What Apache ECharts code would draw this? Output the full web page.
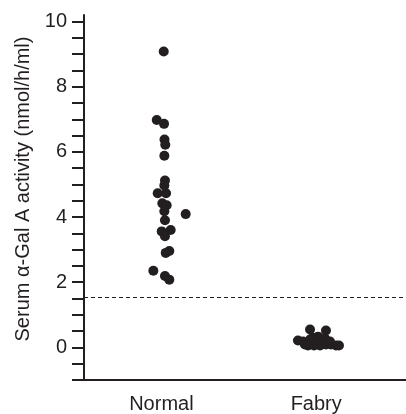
<!DOCTYPE html>
<html>
<head>
<meta charset="utf-8">
<script src="https://cdn.jsdelivr.net/npm/echarts@6/dist/echarts.min.js"></script>
<style>
  html, body { margin: 0; padding: 0; background: #fff; }
  #chart { width: 406px; height: 414px; }
</style>
</head>
<body>
<div id="chart"></div>
<script>
// groups on the x axis
const groups = ['Normal', 'Fabry'];
const groupPos = [1, 2];

// Normal: x jitter position and serum activity
const normalX = [1.015, 0.970, 1.017, 1.020, 1.025, 1.019, 1.023, 1.019, 0.976, 1.030, 1.006, 1.034,
  1.019, 1.023, 1.157, 1.002, 1.060, 1.023, 1.028, 1.051, 0.948, 1.023, 1.051];
const normalY = [9.08, 6.98, 6.86, 6.38, 6.22, 5.88, 5.12, 4.97, 4.73, 4.73, 4.42, 4.36,
  4.18, 3.90, 4.09, 3.56, 3.60, 3.41, 2.90, 2.96, 2.35, 2.19, 2.08];

// Fabry
const fabryX = [1.882, 1.914, 1.960, 2.063, 1.960, 1.999, 2.031, 1.947, 1.986, 2.025, 2.063, 2.095,
  2.128, 2.147, 1.979, 2.012, 2.057, 1.927, 2.089];
const fabryY = [0.21, 0.18, 0.55, 0.52, 0.24, 0.21, 0.15, 0.06, 0.06, 0.06, 0.09, 0.09,
  0.06, 0.06, 0.30, 0.33, 0.27, 0.09, 0.18];

// cut-off line
const cutoff = 1.55;

// y axis ticks and labels
const yLabels = [0, 2, 4, 6, 8, 10];
const yTicks = [-1, -0.5, 0, 0.5, 1, 1.5, 2, 2.5, 3, 3.5, 4, 4.5, 5, 5.5, 6, 6.5, 7, 7.5, 8, 8.5, 9, 9.5, 10];

const ink = '#231f20';
const font = 'Liberation Sans, Arial, Helvetica, sans-serif';

function pairs(xs, ys) {
  return xs.map((x, i) => [x, ys[i]]);
}

const chart = echarts.init(document.getElementById('chart'));
chart.setOption({
  animation: false,
  backgroundColor: '#fff',
  grid: { left: 84, right: 0, top: 15, bottom: 32 },
  xAxis: {
    type: 'value',
    min: 0.5,
    max: 2.58,
    splitLine: { show: false },
    axisLine: { show: true, onZero: false, lineStyle: { color: ink, width: 2 } },
    axisTick: { show: false },
    axisLabel: {
      customValues: groupPos,
      formatter: v => groups[groupPos.indexOf(v)] || '',
      color: ink,
      fontFamily: font,
      fontSize: 20,
      margin: 14
    }
  },
  yAxis: {
    type: 'value',
    min: -1,
    max: 10.2,
    splitLine: { show: false },
    axisLine: { show: true, onZero: false, lineStyle: { color: ink, width: 2 } },
    axisTick: {
      show: true,
      customValues: yTicks,
      length: 12,
      lineStyle: { color: ink, width: 2 }
    },
    axisLabel: {
      customValues: yLabels,
      color: ink,
      fontFamily: font,
      fontSize: 20,
      margin: 17
    }
  },
  graphic: [{
    type: 'text',
    x: 23,
    y: 189,
    rotation: Math.PI / 2,
    style: {
      text: 'Serum α-Gal A activity (nmol/h/ml)',
      fill: ink,
      font: '20px ' + font,
      align: 'center',
      verticalAlign: 'middle'
    }
  }],
  series: [
    {
      name: 'Normal',
      type: 'scatter',
      symbolSize: 10,
      itemStyle: { color: ink, opacity: 1 },
      data: pairs(normalX, normalY),
      markLine: {
        silent: true,
        symbol: 'none',
        label: { show: false },
        lineStyle: { color: ink, width: 1, type: [4, 3] },
        data: [{ yAxis: cutoff }]
      }
    },
    {
      name: 'Fabry',
      type: 'scatter',
      symbolSize: 10,
      itemStyle: { color: ink, opacity: 1 },
      data: pairs(fabryX, fabryY)
    }
  ]
});
</script>
</body>
</html>
